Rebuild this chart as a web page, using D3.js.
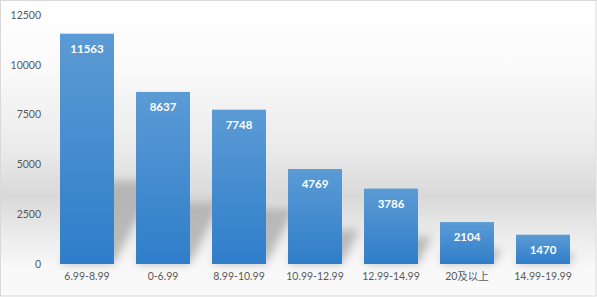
<!DOCTYPE html>
<html>
<head>
<meta charset="utf-8">
<script src="https://cdn.jsdelivr.net/npm/d3@7"></script>
<style>
  body { margin: 0; background: #fff; }
  .axis text { font-family: Lato, "Noto Sans CJK SC", sans-serif; fill: #595959; }
</style>
</head>
<body>
<div class="barChart"></div>
<script>
/* chart data */
const categories = ["6.99-8.99", "0-6.99", "8.99-10.99", "10.99-12.99", "12.99-14.99", "20及以上", "14.99-19.99"];
const counts = [11563, 8637, 7748, 4769, 3786, 2104, 1470];
const yTicks = [0, 2500, 5000, 7500, 10000, 12500];

const W = 597, H = 297;
const baseY = 264;

const svg = d3.select(".barChart")
  .append("svg")
  .attr("width", W)
  .attr("height", H);

const defs = svg.append("defs");

/* background gradient, white at top, grey band behind bars */
const bg = defs.append("linearGradient")
  .attr("id", "bg").attr("x1", 0).attr("y1", 0).attr("x2", 0).attr("y2", 1);
bg.append("stop").attr("offset", "0%").attr("stop-color", "#ffffff");
bg.append("stop").attr("offset", "20%").attr("stop-color", "#fbfbfb");
bg.append("stop").attr("offset", "50%").attr("stop-color", "#ebebeb");
bg.append("stop").attr("offset", "66%").attr("stop-color", "#d9d9d9");
bg.append("stop").attr("offset", "80%").attr("stop-color", "#ececec");
bg.append("stop").attr("offset", "90%").attr("stop-color", "#f8f8f8");
bg.append("stop").attr("offset", "100%").attr("stop-color", "#fafafa");

/* bar gradient */
const barGrad = defs.append("linearGradient")
  .attr("id", "barGrad").attr("x1", 0).attr("y1", 0).attr("x2", 0).attr("y2", 1);
barGrad.append("stop").attr("offset", "0%").attr("stop-color", "#5b9bd5");
barGrad.append("stop").attr("offset", "100%").attr("stop-color", "#2f7dc9");

defs.append("filter").attr("id", "blur")
  .attr("x", "-50%").attr("y", "-50%").attr("width", "200%").attr("height", "200%")
  .append("feGaussianBlur").attr("stdDeviation", 4);

svg.append("rect")
  .attr("x", 0.5).attr("y", 0.5)
  .attr("width", W - 1.5).attr("height", H - 1.5)
  .attr("fill", "url(#bg)")
  .attr("stroke", "#d9d9d9");

/* scales */
const xScale = d3.scaleBand()
  .domain(categories)
  .range([49, 581])
  .paddingInner(0.29)
  .paddingOuter(0.145);

const yScale = d3.scaleLinear()
  .domain([0, 12500])
  .range([baseY, 15]);

/* perspective shadows behind the bars */
svg.append("g")
  .attr("filter", "url(#blur)")
  .selectAll("polygon")
  .data(counts)
  .join("polygon")
  .attr("fill", "#a8a8a8")
  .attr("opacity", 0.75)
  .attr("points", (d, i) => {
    const x0 = xScale(categories[i]);
    const x1 = x0 + xScale.bandwidth();
    const h = (baseY - yScale(d)) * 0.36;
    const dx = h * 0.5;
    return [[x0, baseY], [x1, baseY], [x1 + dx, baseY - h], [x0 + dx, baseY - h]].join(" ");
  });

/* bars */
svg.append("g")
  .selectAll("rect")
  .data(counts)
  .join("rect")
  .attr("x", (d, i) => xScale(categories[i]))
  .attr("y", d => yScale(d))
  .attr("width", xScale.bandwidth())
  .attr("height", d => baseY - yScale(d))
  .attr("fill", "url(#barGrad)");

/* value labels */
svg.append("g")
  .selectAll("text")
  .data(counts)
  .join("text")
  .attr("x", (d, i) => xScale(categories[i]) + xScale.bandwidth() / 2)
  .attr("y", d => yScale(d) + 19)
  .attr("text-anchor", "middle")
  .attr("fill", "#ffffff")
  .style("font-family", "Lato, sans-serif")
  .style("font-weight", "bold")
  .style("font-size", "11.5px")
  .text(d => d);

/* y axis */
const yAxis = d3.axisLeft(yScale)
  .tickValues(yTicks)
  .tickFormat(d3.format("d"))
  .tickSize(0)
  .tickPadding(0);

svg.append("g")
  .attr("class", "axis")
  .attr("transform", "translate(41,0)")
  .call(yAxis)
  .call(g => g.select(".domain").remove())
  .call(g => g.selectAll("text").style("font-size", "10.5px"));

/* x axis */
const xAxis = d3.axisBottom(xScale)
  .tickSize(0)
  .tickPadding(9);

svg.append("g")
  .attr("class", "axis")
  .attr("transform", `translate(0,${baseY})`)
  .call(xAxis)
  .call(g => g.select(".domain").remove())
  .call(g => g.selectAll("text").style("font-size", "10.5px"));
</script>
</body>
</html>
